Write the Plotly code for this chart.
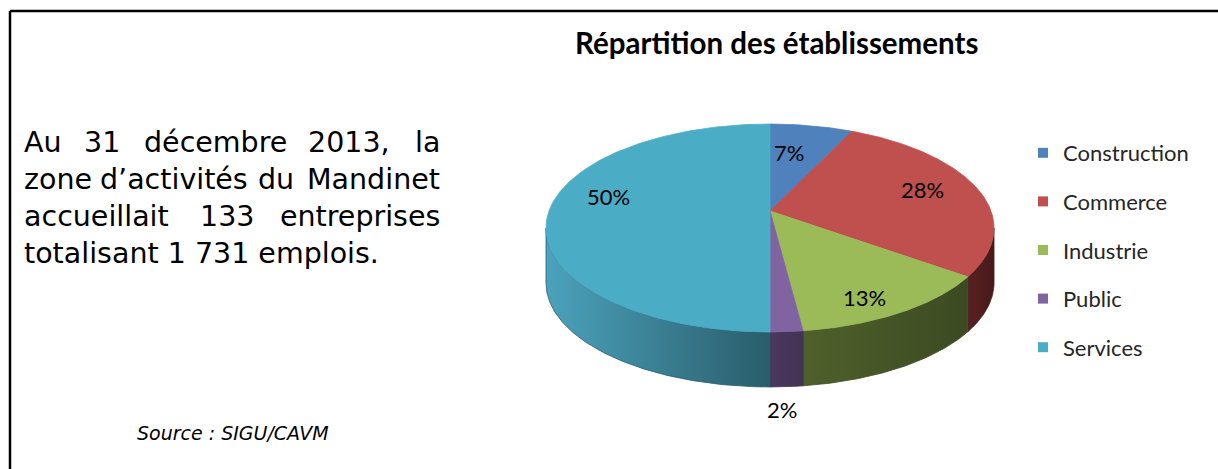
import numpy as np
import plotly.graph_objects as go

# ---------------- data ----------------
categories = ["Construction", "Commerce", "Industrie", "Public", "Services"]
values = [7, 28, 13, 2, 50]          # percentages
label_texts = [f"{v}%" for v in values]

title_text = "Répartition des établissements"
intro_words = [
    ["Au", "31", "décembre", "2013,", "la"],
    ["zone", "d’activités", "du", "Mandinet"],
    ["accueillait", "133", "entreprises"],
    ["totalisant 1 731 emplois."],
]
source_text = "Source : SIGU/CAVM"

# ---------------- styles ----------------
top_colors = ["#4f81bd", "#c0504d", "#9bbb59", "#8064a2", "#4bacc6"]
side_colors = [("#3d6594", "#2e4d72"), ("#5a2121", "#461a1a"),
               ("#4f602b", "#3c4a22"), ("#4a3860", "#433354"),
               ("#4ba2bc", "#2a5d6b")]
W, H = 1218, 469
CX, CY = 770, 211          # projected pie centre (pixels)
A, B, K = 221, 101.2, 0.1635   # perspective ellipse parameters
DEPTH = 55
label_r = [0.65, 0.75, 0.84, 1.0, 0.76]
label_shift = [-4, -3, 4, 0, 11]

def proj(phi_deg, r=1.0):
    phi = np.radians(phi_deg)
    X = r * np.sin(phi)
    Z = -r * np.cos(phi)
    w = 1 - K * Z
    return CX + A * X / w, CY + B * Z / w

total = float(sum(values))
cum = np.concatenate([[0], np.cumsum(values)]) * 360.0 / total

grid = np.linspace(0, 360, 3601)
gx, _ = proj(grid)
phiR = grid[:1801][np.argmax(gx[:1801])]
phiL = grid[1800:][np.argmin(gx[1800:])]

fig = go.Figure()

# side walls
for i, cat in enumerate(categories):
    lo, hi = max(cum[i], phiR), min(cum[i + 1], phiL)
    if lo >= hi:
        continue
    ang = np.linspace(lo, hi, 120)
    tx, ty = proj(ang)
    xs = np.concatenate([tx, tx[::-1], tx[:1]])
    ys = np.concatenate([ty, ty[::-1] + DEPTH, ty[:1]])
    c0, c1 = side_colors[i]
    fig.add_trace(go.Scatter(
        x=xs, y=ys, mode="lines", fill="toself",
        line=dict(color=c1, width=0.8),
        fillgradient=dict(type="horizontal", colorscale=[[0, c0], [1, c1]]),
        hoverinfo="skip", showlegend=False))

# top faces
for i, cat in enumerate(categories):
    ang = np.linspace(cum[i], cum[i + 1], 200)
    tx, ty = proj(ang)
    xs = np.concatenate([[CX], tx, [CX]])
    ys = np.concatenate([[CY], ty, [CY]])
    fig.add_trace(go.Scatter(
        x=xs, y=ys, mode="lines", fill="toself", fillcolor=top_colors[i],
        line=dict(color=top_colors[i], width=0.8),
        name=cat, hoverinfo="name", showlegend=False))

# legend entries
for i, cat in enumerate(categories):
    fig.add_trace(go.Scatter(
        x=[None], y=[None], mode="markers", name=cat, legendgroup=cat,
        marker=dict(symbol="square", size=10, color=top_colors[i]),
        showlegend=True))

# slice labels
for i, txt in enumerate(label_texts):
    mid = (cum[i] + cum[i + 1]) / 2 + label_shift[i]
    lx, ly = proj(mid, label_r[i])
    if label_r[i] >= 1.0:
        ly = ly + DEPTH + 23
        lx = lx - 5
    fig.add_annotation(x=lx, y=ly, text=txt, showarrow=False,
                       font=dict(family="Lato", size=22, color="#000000"))

# title
fig.add_annotation(x=776, y=42, text=f"<b>{title_text}</b>", showarrow=False,
                   font=dict(family="Lato", size=29.5, color="#000000"))

# left paragraph (justified)
line_y = [142, 179, 216, 253]
left_x, right_x = 22, 442
word_centers = {0: [102, 215, 349], 1: [174, 276], 2: [227]}
fnt = dict(family="DejaVu Sans", size=28.5, color="#000000")
for li, words in enumerate(intro_words):
    fig.add_annotation(x=left_x, y=line_y[li], text=words[0], xanchor="left",
                       showarrow=False, font=fnt)
    if len(words) == 1:
        continue
    fig.add_annotation(x=right_x, y=line_y[li], text=words[-1], xanchor="right",
                       showarrow=False, font=fnt)
    for w_, cxw in zip(words[1:-1], word_centers[li]):
        fig.add_annotation(x=cxw, y=line_y[li], text=w_, xanchor="center",
                           showarrow=False, font=fnt)

fig.add_annotation(x=233, y=433, text=f"<i>{source_text}</i>", showarrow=False,
                   font=dict(family="DejaVu Sans", size=19, color="#000000"))

# frame
fig.add_shape(type="line", x0=10, y0=11, x1=W, y1=11, xref="x", yref="y",
              line=dict(color="#000000", width=2.5))
fig.add_shape(type="line", x0=10, y0=11, x1=10, y1=H, xref="x", yref="y",
              line=dict(color="#000000", width=2.5))

fig.update_layout(
    width=W, height=H,
    margin=dict(l=0, r=0, t=0, b=0),
    paper_bgcolor="white", plot_bgcolor="white",
    xaxis=dict(range=[0, W], visible=False, fixedrange=True),
    yaxis=dict(range=[H, 0], visible=False, fixedrange=True),
    showlegend=True,
    legend=dict(x=1023 / W, xanchor="left",
                y=(H - 132) / H, yanchor="top",
                font=dict(family="Lato", size=22, color="#262626"),
                tracegroupgap=17, bgcolor="rgba(0,0,0,0)", itemwidth=30),
)

fig.write_html("out.html", config={"displayModeBar": False},
               post_script="document.body.style.margin='0';"
                           "document.body.style.overflow='hidden';")
